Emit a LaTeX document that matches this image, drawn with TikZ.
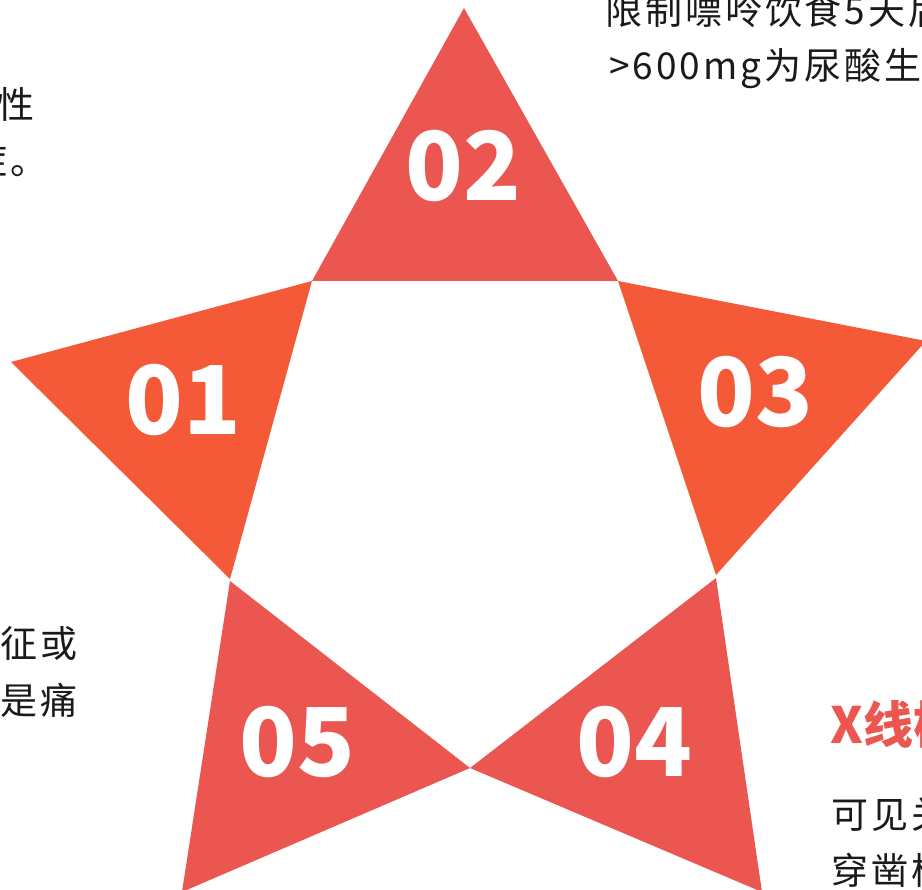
\documentclass[tikz,border=0pt]{standalone}
\usepackage{fontspec}
\setmainfont{Noto Sans CJK SC}
\newfontfamily\bodyfont[LetterSpace=8]{Noto Sans CJK SC}
\definecolor{coral}{HTML}{EC5651}
\definecolor{flame}{HTML}{F45A37}
\definecolor{ink}{HTML}{1A1A1A}
\begin{document}
\begin{tikzpicture}[x=1pt,y=-1pt,
  num/.style={text=white,font=\fontsize{95}{95}\selectfont\bfseries,inner sep=0pt},
  body/.style={text=ink,font=\bodyfont\fontsize{37}{37}\selectfont,inner sep=0pt},
  head/.style={text=coral,font=\fontsize{50}{50}\selectfont\bfseries,inner sep=0pt}]
\clip (0,0) rectangle (922,890);
\fill[white] (0,0) rectangle (922,890);
% star triangles
\fill[coral] (464,8) -- (312,281) -- (618,281) -- cycle;
\fill[flame] (11,362) -- (312,281) -- (230,579) -- cycle;
\fill[flame] (618,281) -- (926,341) -- (716,575) -- cycle;
\fill[coral] (716,578) -- (470,768) -- (762,892) -- cycle;
\fill[coral] (230,581) -- (470,768) -- (182,892) -- cycle;
% numbers
\node[num] (n02) at (463,166) {02};
\node[num] (n01) at (183,400) {01};
\node[num] (n03) at (755,392) {03};
\node[num] (n04) at (634,742) {04};
\node[num] (n05) at (297,742) {05};
% texts
\node[body,anchor=base west] (t2a) at (605,25) {限制嘌呤饮食5天后};
\node[body,anchor=base west] (t2b) at (609,80) {>600mg为尿酸生};
\node[body,anchor=base east] (t1a) at (35,119) {异性};
\node[body,anchor=base east] (t1b) at (48,175) {症。};
\node[body,anchor=base east] (t5a) at (78,657) {征或};
\node[body,anchor=base east] (t5b) at (78,714) {是痛};
\node[head,anchor=base west] (t4h) at (830,743) {X线检};
\node[body,anchor=base west] (t4a) at (831,828) {可见关};
\node[body,anchor=base west] (t4b) at (831,884) {穿凿样};
\end{tikzpicture}
\end{document}
